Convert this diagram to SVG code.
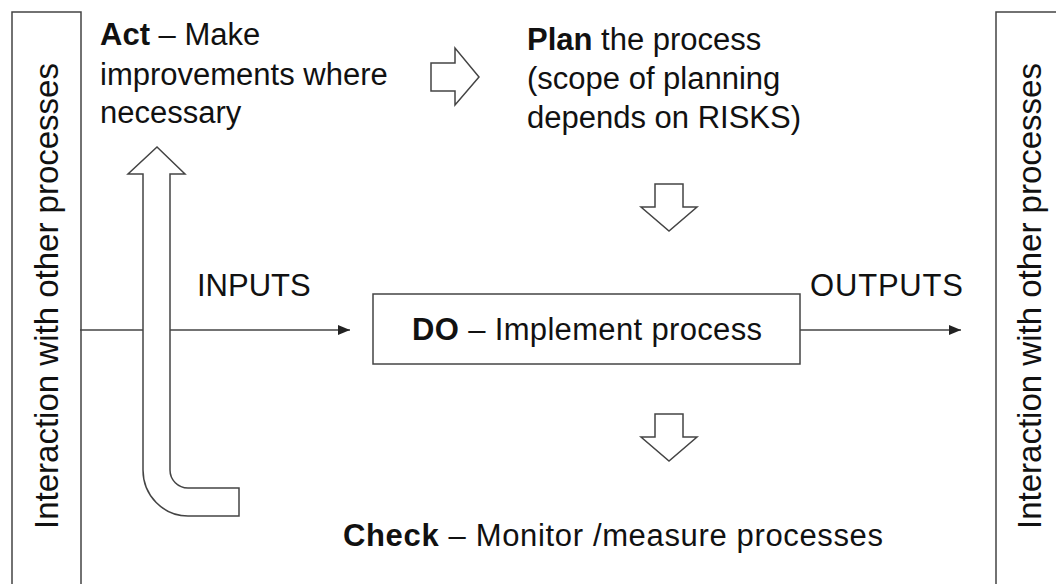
<svg xmlns="http://www.w3.org/2000/svg" width="1056" height="584" viewBox="0 0 1056 584">
  <style>
    .t { font-family: "Liberation Sans", Arial, sans-serif; font-size: 31px; fill: #111; }
    .side { font-size: 33px; }
    .b { font-weight: bold; }
    .frame { fill: none; stroke: #444; stroke-width: 1.5; }
    .block { fill: #fff; stroke: #444; stroke-width: 1.5; stroke-linejoin: miter; }
    .wire { fill: none; stroke: #444; stroke-width: 1.5; }
  </style>
  <defs>
    <marker id="tip" viewBox="0 0 12 10" refX="12" refY="5" markerWidth="12" markerHeight="10" markerUnits="userSpaceOnUse" orient="auto">
      <path d="M0,0 L12,5 L0,10 Z" fill="#222"/>
    </marker>
  </defs>
  <rect width="1056" height="584" fill="#fff"/>

  <!-- side panels: interaction with other processes -->
  <g id="left-panel">
    <path class="frame" d="M12,600 L12,12 L81,12 L81,600"/>
    <text class="t side" transform="translate(58,296) rotate(-90)" text-anchor="middle">Interaction with other processes</text>
  </g>
  <g id="right-panel">
    <path class="frame" d="M1060,12 L996,12 L996,600"/>
    <text class="t side" transform="translate(1041,296) rotate(-90)" text-anchor="middle">Interaction with other processes</text>
  </g>

  <!-- flow lines -->
  <g id="connectors">
    <line class="wire" x1="80" y1="330" x2="350" y2="330" marker-end="url(#tip)"/>
    <line class="wire" x1="800" y1="330" x2="961" y2="330" marker-end="url(#tip)"/>
  </g>

  <!-- Act: feedback arrow bending up -->
  <g id="act-arrow">
    <path class="block" d="M143,174 L128,174 L157,147 L185,174 L170,174 L170,470 A18,18 0 0 0 188,488 L239,488 L239,516 L188,516 A45,46 0 0 1 143,470 Z"/>
  </g>
  <g id="act">
    <text class="t" x="100" y="45"><tspan class="b">Act</tspan> – Make</text>
    <text class="t" x="100" y="85">improvements where</text>
    <text class="t" x="100" y="123">necessary</text>
  </g>

  <g id="act-to-plan">
    <path class="block" d="M431,63 L455,63 L455,48 L479,77 L455,105 L455,91 L431,91 Z"/>
  </g>

  <g id="plan">
    <text class="t" x="527" y="50"><tspan class="b">Plan</tspan> the process</text>
    <text class="t" x="527" y="89">(scope of planning</text>
    <text class="t" x="527" y="128">depends on RISKS)</text>
  </g>

  <g id="plan-to-do">
    <path class="block" d="M655,184 L683,184 L683,207 L697,207 L669,231 L641,207 L655,207 Z"/>
  </g>

  <g id="do">
    <rect class="block" x="373" y="294" width="427" height="70"/>
    <text class="t" x="412" y="340" textLength="350"><tspan class="b">DO</tspan> – Implement process</text>
  </g>

  <g id="inputs">
    <text class="t" x="197" y="296">INPUTS</text>
  </g>
  <g id="outputs">
    <text class="t" x="810" y="296" textLength="153">OUTPUTS</text>
  </g>

  <g id="do-to-check">
    <path class="block" d="M655,414 L683,414 L683,437 L697,437 L669,461 L641,437 L655,437 Z"/>
  </g>

  <g id="check">
    <text class="t" x="343" y="546" textLength="540"><tspan class="b">Check</tspan> – Monitor /measure processes</text>
  </g>
</svg>
